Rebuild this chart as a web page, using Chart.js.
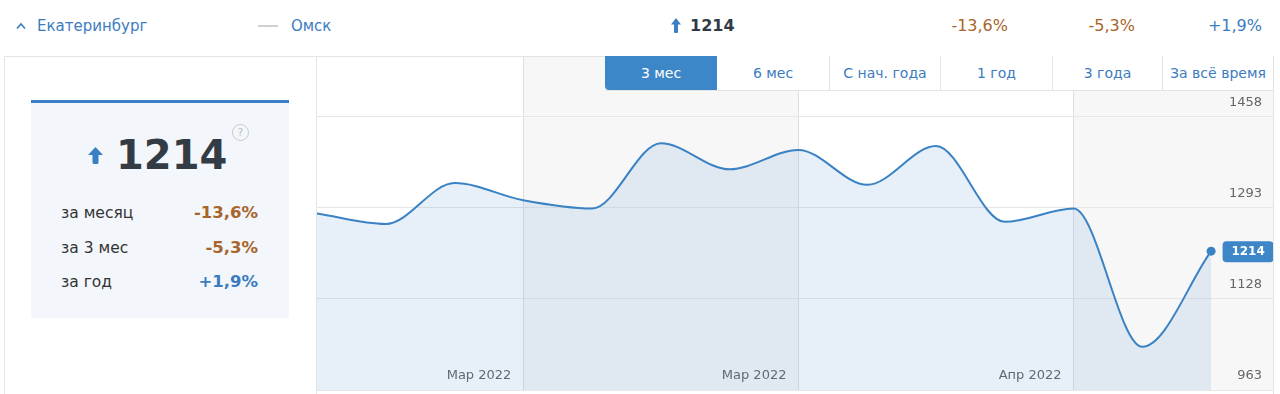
<!DOCTYPE html>
<html><head><meta charset="utf-8">
<script src="https://cdn.jsdelivr.net/npm/chart.js@4"></script>
<style>
html,body{margin:0;padding:0;background:#fff;}
body{width:1280px;height:394px;overflow:hidden;position:relative;font-family:"DejaVu Sans",Verdana,sans-serif;}
.a{position:absolute;white-space:nowrap;line-height:20px;}
.blue{color:#3b7cc0;}
.brown{color:#a8642a;}
#panel{position:absolute;left:4px;top:56px;width:1270px;height:400px;border:1px solid #e4e4e4;box-sizing:border-box;}
#divider{position:absolute;left:316px;top:56px;width:1px;height:340px;background:#e4e4e4;}
#chartbox{position:absolute;left:317px;top:57px;width:956px;height:337px;overflow:hidden;}
#btns{position:absolute;left:605px;top:56px;height:35px;display:flex;border-bottom:1px solid #e4e4e4;box-sizing:border-box;background:#fff;}
#btns div{height:34px;line-height:34px;text-align:center;font-size:14px;color:#3b7cc0;border-left:1px solid #e4e4e4;box-sizing:border-box;}
#btns div.act{background:#3d87c8;color:#fff;border-left:none;border-bottom-left-radius:4px;}
#card{position:absolute;left:31px;top:100px;width:258px;height:218px;background:#f3f7fb;border-top:3px solid #3a80c2;box-sizing:border-box;}
</style></head><body>

<svg class="a" style="left:16px;top:22px" width="10" height="8"><polyline points="1,6.5 5,2 9,6.5" fill="none" stroke="#3b7cc0" stroke-width="1.6"/></svg>
<div class="a blue" style="left:37px;top:16px;font-size:15px">Екатеринбург</div>
<div class="a" style="left:258px;top:25px;width:20px;height:2px;background:#d0d0d0"></div>
<div class="a blue" style="left:291px;top:16px;font-size:15px">Омск</div>

<svg class="a" style="left:671px;top:18px" width="10" height="15"><path d="M5 0 L10 6.5 L7 6.5 L7 14 Q7 15 6 15 L4 15 Q3 15 3 14 L3 6.5 L0 6.5 Z" fill="#3a7fc3"/></svg>
<div class="a" style="left:690px;top:16px;font-size:16px;font-weight:bold;color:#2f3a45">1214</div>
<div class="a brown" style="right:272px;top:16px;font-size:16px">-13,6%</div>
<div class="a brown" style="right:145px;top:16px;font-size:16px">-5,3%</div>
<div class="a blue" style="right:18px;top:16px;font-size:16px">+1,9%</div>

<div id="panel"></div>

<div id="card"></div>
<svg class="a" style="left:88px;top:147px" width="15" height="17"><path d="M7.5 0 L15 8 L10.5 8 L10.5 15.5 Q10.5 17 9 17 L6 17 Q4.5 17 4.5 15.5 L4.5 8 L0 8 Z" fill="#3a7fc3"/></svg>
<div class="a" style="left:116px;top:131px;line-height:48px;font-size:40px;font-weight:bold;color:#333c45">1214</div>
<div class="a" style="left:232px;top:124px;width:15px;height:15px;border:1px solid #c9c9c9;border-radius:50%;line-height:15px;text-align:center;font-size:11px;color:#bdbdbd">?</div>
<div class="a" style="left:61px;top:202.5px;font-size:15.5px;color:#333">за месяц</div>
<div class="a brown" style="right:1022px;top:202.5px;font-size:16.5px;font-weight:bold">-13,6%</div>
<div class="a" style="left:61px;top:237.5px;font-size:15.5px;color:#333">за 3 мес</div>
<div class="a brown" style="right:1022px;top:237.5px;font-size:16.5px;font-weight:bold">-5,3%</div>
<div class="a" style="left:61px;top:271.5px;font-size:15.5px;color:#333">за год</div>
<div class="a blue" style="right:1022px;top:271.5px;font-size:16.5px;font-weight:bold">+1,9%</div>

<div id="divider"></div>
<div id="chartbox"><canvas id="c" width="956" height="347"></canvas></div>

<div id="btns">
  <div class="act" style="width:112px">3 мес</div>
  <div style="width:112px;border-left:none">6 мес</div>
  <div style="width:111px">С нач. года</div>
  <div style="width:112px">1 год</div>
  <div style="width:110px">3 года</div>
  <div style="width:111px">За всё время</div>
</div>

<script>
const weeks = ['1','2','3','4','5','6','7','8','9','10','11','12','13','14'];
const values = [1282, 1263, 1337, 1306, 1291, 1409, 1362, 1397, 1334, 1404, 1267, 1291, 1041, 1214];
const yTickValues = [963, 1128, 1293, 1458];
const xTickPositions = [3, 7, 11];
const xTickLabels = ['Мар 2022', 'Мар 2022', 'Апр 2022'];

Chart.defaults.font.family = '"DejaVu Sans", Verdana, sans-serif';

const bandsPlugin = {
  id: 'bands',
  beforeDraw(chart) {
    const {ctx, chartArea, scales} = chart;
    const x = scales.x;
    ctx.save();
    ctx.fillStyle = '#f7f7f7';
    const a = x.getPixelForValue(xTickPositions[0]);
    const b = x.getPixelForValue(xTickPositions[1]);
    const c = x.getPixelForValue(xTickPositions[2]);
    ctx.fillRect(a, chartArea.top, b - a, chartArea.bottom - chartArea.top);
    ctx.fillRect(c, chartArea.top, chartArea.right - c, chartArea.bottom - chartArea.top);
    ctx.restore();
  }
};

const badgePlugin = {
  id: 'badge',
  afterDatasetsDraw(chart) {
    const meta = chart.getDatasetMeta(0);
    const el = meta.data[meta.data.length - 1];
    const ctx = chart.ctx;
    const bx = el.x + 11.5, by = el.y - 10, bw = 51, bh = 21;
    ctx.save();
    ctx.fillStyle = '#3d87c8';
    ctx.beginPath();
    ctx.roundRect(bx, by, bw, bh, 4);
    ctx.fill();
    ctx.fillStyle = '#fff';
    ctx.font = 'bold 12px "DejaVu Sans", Verdana, sans-serif';
    ctx.textAlign = 'center';
    ctx.textBaseline = 'middle';
    ctx.fillText(String(values[values.length - 1]), bx + bw / 2, by + bh / 2 + 0.5);
    ctx.restore();
  }
};

new Chart(document.getElementById('c'), {
  type: 'line',
  data: {
    labels: weeks,
    datasets: [{
      data: values.map((v, i) => ({x: i, y: v})),
      borderColor: '#3a82c4',
      borderWidth: 2,
      backgroundColor: 'rgba(58,130,196,0.12)',
      fill: 'start',
      cubicInterpolationMode: 'monotone',
      pointRadius: ctx => ctx.dataIndex === values.length - 1 ? 4.5 : 0,
      pointBackgroundColor: '#3a82c4',
      pointBorderWidth: 0,
      pointHoverRadius: 0
    }]
  },
  options: {
    responsive: false,
    animation: false,
    events: [],
    layout: {padding: 0, autoPadding: false},
    plugins: {legend: {display: false}, tooltip: {enabled: false}},
    scales: {
      x: {
        type: 'linear',
        bounds: 'data',
        min: 0,
        max: 13.9,
        position: 'bottom',
        afterBuildTicks: s => { s.ticks = xTickPositions.map(v => ({value: v})); },
        ticks: {
          mirror: true,
          padding: 7,
          align: 'end',
          labelOffset: -12,
          color: '#666',
          font: {size: 13},
          callback: (v, i) => xTickLabels[i]
        },
        grid: {color: '#dedede', drawTicks: false},
        border: {display: false}
      },
      y: {
        position: 'right',
        bounds: 'data',
        min: 963,
        max: 1565,
        afterBuildTicks: s => { s.ticks = yTickValues.map(v => ({value: v})); },
        ticks: {
          mirror: true,
          padding: -11,
          labelOffset: -14,
          color: '#666',
          font: {size: 13},
          callback: v => String(v)
        },
        grid: {color: '#e6e6e6', drawTicks: true, tickLength: 22},
        border: {display: false}
      }
    }
  },
  plugins: [bandsPlugin, badgePlugin]
});
</script>
</body></html>
